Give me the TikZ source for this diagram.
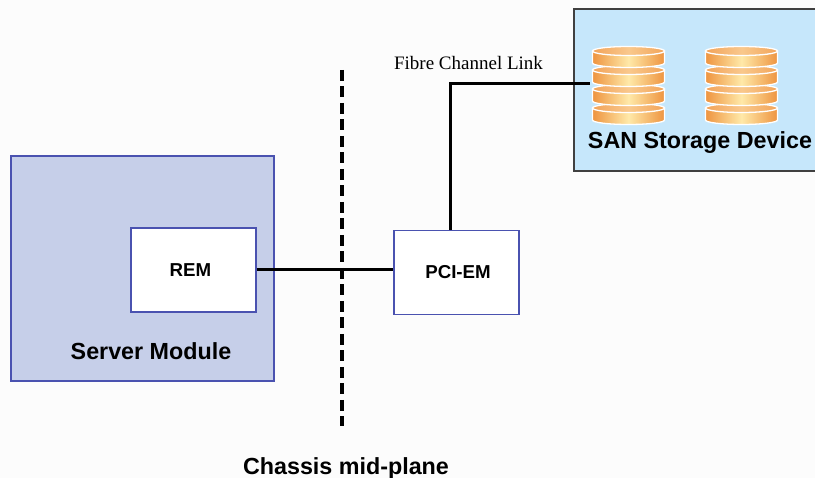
\documentclass[tikz,border=0pt]{standalone}
\usepackage{fontspec}
\setmainfont{Liberation Sans}
\newfontfamily\serifface{Liberation Serif}
\usetikzlibrary{calc}
\definecolor{moduleblue}{HTML}{C6CFE9}
\definecolor{edgeblue}{HTML}{4A52B0}
\definecolor{sanblue}{HTML}{C6E7FB}
\definecolor{diskorange}{HTML}{EE9440}
\definecolor{diskglow}{HTML}{FFE9A8}
\definecolor{disktop}{HTML}{F2A45A}
\definecolor{diskmid}{HTML}{F9C88C}
\tikzset{
	modulebox/.style={draw=edgeblue,line width=1.7pt,fill=white,minimum width=125pt,minimum height=84pt,inner sep=0pt},
	boxlabel/.style={font=\bfseries\fontsize{18.7}{22}\selectfont,inner sep=0pt},
	biglabel/.style={font=\bfseries\fontsize{23.3}{27}\selectfont,inner sep=0pt},
	wire/.style={line width=3pt,black},
	disk/.style={draw=white,line width=1.3pt,left color=diskorange,right color=diskorange,middle color=diskglow},
	disktopface/.style={draw=white,line width=1.3pt,left color=disktop,right color=disktop,middle color=diskmid},
	stack/.style={minimum width=77pt,minimum height=78pt,inner sep=0pt}
}
\newcommand{\storagedisk}[2]{% x centre, y of the top face
	\draw[disk] (#1-36,#2) -- (#1-36,#2+12) arc [start angle=180,end angle=0,x radius=36,y radius=4.5] -- (#1+36,#2) -- cycle;
	\draw[disktopface] (#1,#2) circle [x radius=36,y radius=4.5];
}
\begin{document}
\begin{tikzpicture}[x=1pt,y=-1pt]
	\useasboundingbox (0,0) rectangle (815,478);
	\fill[white!99!black] (0,0) rectangle (815,478);
	\node[draw=edgeblue,line width=1.7pt,fill=moduleblue,minimum width=263pt,minimum height=225pt,inner sep=0pt] (server) at (142.5,268.5) {};
	\node[draw=black!75,line width=1.8pt,fill=sanblue,minimum width=250pt,minimum height=162pt,inner sep=0pt] (san) at (699,90) {};
	\node[modulebox] (rem) at (193.5,270) {};
	\node[boxlabel] (remlabel) at (190.5,270) {REM};
	\node[modulebox] (pci) at (456.5,272.5) {};
	\node[boxlabel] (pcilabel) at (458,272) {PCI-EM};
	% the two disk stacks
	\foreach \x in {628.5,741.5}{
		\foreach \y in {108,89,70,51}{
			\storagedisk{\x}{\y}
		}
	}
	\node[stack] (stackone) at (628.5,84) {};
	\node[stack] (stacktwo) at (741.5,84) {};
	\node[biglabel] (sanlabel) at (700,143) {SAN Storage Device};
	\node[biglabel] (serverlabel) at (151,351) {Server Module};
	\node[biglabel] (planelabel) at (346,468) {Chassis mid-plane};
	\node[font=\serifface\fontsize{19}{22}\selectfont,inner sep=0pt] (linklabel) at (468.5,63) {Fibre Channel Link};
	\coordinate (planetop) at (342,70);
	\coordinate (planebottom) at (342,426);
	\coordinate (linkstart) at (450,230);
	\draw[line width=3.2pt,dash pattern=on 11pt off 5.5pt] (planetop) -- (planebottom);
	\draw[wire] (rem.east) -- (rem.east -| pci.west);
	\draw[wire] (linkstart) |- (stackone.west);
\end{tikzpicture}
\end{document}
